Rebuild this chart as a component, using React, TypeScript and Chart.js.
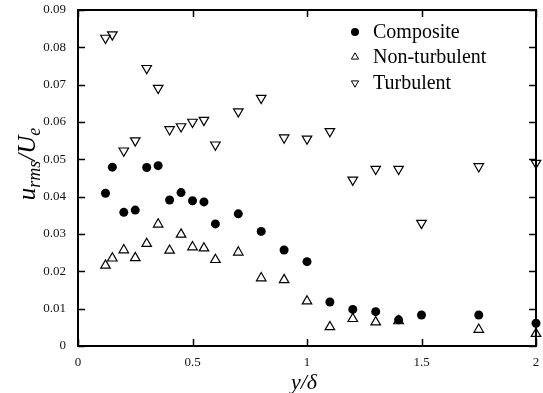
import React, { useEffect, useRef } from "react";
import { Chart, registerables } from "chart.js";

Chart.register(...registerables);

const xComposite = [0.12, 0.15, 0.2, 0.25, 0.3, 0.35, 0.4, 0.45, 0.5, 0.55, 0.6, 0.7, 0.8, 0.9, 1.0, 1.1, 1.2, 1.3, 1.4, 1.5, 1.75, 2.0];
const yComposite = [0.0409, 0.0479, 0.0358, 0.0364, 0.0478, 0.0483, 0.0391, 0.0411, 0.0389, 0.0386, 0.0327, 0.0354, 0.0307, 0.0257, 0.0226, 0.0118, 0.0098, 0.0092, 0.007, 0.0083, 0.0083, 0.0061];

const xNonTurb = [0.12, 0.15, 0.2, 0.25, 0.3, 0.35, 0.4, 0.45, 0.5, 0.55, 0.6, 0.7, 0.8, 0.9, 1.0, 1.1, 1.2, 1.3, 1.4, 1.75, 2.0];
const yNonTurb = [0.0216, 0.0235, 0.0257, 0.0236, 0.0274, 0.0326, 0.0256, 0.0299, 0.0265, 0.0262, 0.0231, 0.0251, 0.0182, 0.0177, 0.012, 0.0051, 0.0073, 0.0064, 0.0067, 0.0044, 0.0033];

const xTurb = [0.12, 0.15, 0.2, 0.25, 0.3, 0.35, 0.4, 0.45, 0.5, 0.55, 0.6, 0.7, 0.8, 0.9, 1.0, 1.1, 1.2, 1.3, 1.4, 1.5, 1.75, 2.0];
const yTurb = [0.0825, 0.0834, 0.0523, 0.055, 0.0744, 0.0691, 0.058, 0.0588, 0.06, 0.0605, 0.0539, 0.0628, 0.0664, 0.0558, 0.0555, 0.0575, 0.0445, 0.0474, 0.0474, 0.0329, 0.0481, 0.049];

const seriesNames = ["Composite", "Non-turbulent", "Turbulent"];

const yTickValues = [0, 0.01, 0.02, 0.03, 0.04, 0.05, 0.06, 0.07, 0.08, 0.09];
const yTickLabels = ["0", "0.01", "0.02", "0.03", "0.04", "0.05", "0.06", "0.07", "0.08", "0.09"];
const xTickValues = [0, 0.5, 1, 1.5, 2];
const xTickLabels = ["0", "0.5", "1", "1.5", "2"];

const SERIF = "'Liberation Serif', 'DejaVu Serif', serif";

const decorPlugin = {
  id: "decor",
  afterDraw(chart: any) {
    const ctx = chart.ctx as CanvasRenderingContext2D;
    const { left, right, top, bottom } = chart.chartArea;
    const xs = chart.scales.x;
    const ys = chart.scales.y;
    ctx.save();
    ctx.strokeStyle = "#000";
    // frame
    ctx.lineWidth = 2;
    ctx.strokeRect(left, top, right - left, bottom - top);
    // ticks inward
    ctx.lineWidth = 1.5;
    const tl = 7;
    ctx.beginPath();
    yTickValues.forEach((v) => {
      const py = Math.round(ys.getPixelForValue(v)) + 0.5;
      ctx.moveTo(left, py);
      ctx.lineTo(left + tl, py);
      ctx.moveTo(right, py);
      ctx.lineTo(right - tl, py);
    });
    xTickValues.forEach((v) => {
      const px = Math.round(xs.getPixelForValue(v)) + 0.5;
      ctx.moveTo(px, bottom);
      ctx.lineTo(px, bottom - tl);
      ctx.moveTo(px, top);
      ctx.lineTo(px, top + tl);
    });
    ctx.stroke();

    // y-axis title: u_rms/U_e
    ctx.fillStyle = "#000";
    ctx.save();
    ctx.translate(27, 164);
    ctx.rotate(-Math.PI / 2);
    const big = "italic 25px " + SERIF;
    const small = "italic 18px " + SERIF;
    const parts: [string, string, number][] = [
      ["u", big, 0],
      ["rms", small, 5],
      ["/U", big, 0],
      ["e", small, 5],
    ];
    let total = 0;
    parts.forEach(([t, f]) => {
      ctx.font = f;
      total += ctx.measureText(t).width;
    });
    let cx = -total / 2;
    ctx.textBaseline = "alphabetic";
    ctx.textAlign = "left";
    parts.forEach(([t, f, dy]) => {
      ctx.font = f;
      ctx.fillText(t, cx, 8 + dy);
      cx += ctx.measureText(t).width;
    });
    ctx.restore();

    // x-axis title: y/δ
    ctx.font = "italic 22px " + SERIF;
    ctx.textAlign = "center";
    ctx.textBaseline = "middle";
    ctx.fillText("y/δ", 304, 383);

    // legend
    const rows = [32, 57, 83];
    const mx = 355;
    const tx = 373;
    ctx.font = "20px " + SERIF;
    ctx.textAlign = "left";
    ctx.textBaseline = "middle";
    rows.forEach((ry, i) => {
      ctx.lineWidth = 1;
      ctx.beginPath();
      if (i === 0) {
        ctx.arc(mx, ry, 4, 0, Math.PI * 2);
        ctx.fill();
      } else {
        const r = 4.2;
        const s = i === 1 ? -1 : 1;
        ctx.moveTo(mx, ry + s * r);
        ctx.lineTo(mx - r * 0.866, ry - s * r * 0.5);
        ctx.lineTo(mx + r * 0.866, ry - s * r * 0.5);
        ctx.closePath();
        ctx.stroke();
      }
      ctx.fillText(seriesNames[i], tx, ry + 1);
    });
    ctx.restore();
  },
};

export default function App() {
  const ref = useRef<HTMLCanvasElement>(null);
  useEffect(() => {
    if (!ref.current) return;
    const toPts = (xs: number[], ys: number[]) => xs.map((x, i) => ({ x, y: ys[i] }));
    const chart = new Chart(ref.current, {
      type: "scatter",
      data: {
        datasets: [
          {
            label: seriesNames[0],
            data: toPts(xComposite, yComposite),
            pointStyle: "circle",
            pointRadius: 4.5,
            backgroundColor: "#000",
            borderColor: "#000",
            borderWidth: 0,
            clip: false,
          },
          {
            label: seriesNames[1],
            data: toPts(xNonTurb, yNonTurb),
            pointStyle: "triangle",
            pointRadius: 5.5,
            backgroundColor: "rgba(255,255,255,0)",
            borderColor: "#000",
            borderWidth: 1.2,
            clip: false,
          },
          {
            label: seriesNames[2],
            data: toPts(xTurb, yTurb),
            pointStyle: "triangle",
            pointRotation: 180,
            pointRadius: 5.5,
            backgroundColor: "rgba(255,255,255,0)",
            borderColor: "#000",
            borderWidth: 1.2,
            clip: false,
          },
        ],
      },
      options: {
        responsive: false,
        animation: false,
        events: [],
        layout: { padding: { left: 0, right: 7, top: 10, bottom: 0 } },
        plugins: { legend: { display: false }, tooltip: { enabled: false } },
        scales: {
          x: {
            type: "linear",
            min: 0,
            max: 2,
            grid: { display: false, drawTicks: false },
            border: { display: false },
            afterBuildTicks: (s: any) => {
              s.ticks = xTickValues.map((v) => ({ value: v }));
            },
            afterFit: (s: any) => {
              s.height = 47;
              s.paddingLeft = 0;
              s.paddingRight = 0;
            },
            ticks: {
              padding: 9,
              maxRotation: 0,
              autoSkip: false,
              color: "#111",
              font: { family: SERIF, size: 13 },
              callback: (v: any) => {
                const i = xTickValues.indexOf(Number(v));
                return i >= 0 ? xTickLabels[i] : "";
              },
            },
          },
          y: {
            type: "linear",
            min: 0,
            max: 0.09,
            grid: { display: false, drawTicks: false },
            border: { display: false },
            afterBuildTicks: (s: any) => {
              s.ticks = yTickValues.map((v) => ({ value: v }));
            },
            afterFit: (s: any) => {
              s.width = 78;
              s.paddingTop = 0;
              s.paddingBottom = 0;
            },
            ticks: {
              padding: 12,
              autoSkip: false,
              color: "#111",
              font: { family: SERIF, size: 13 },
              callback: (v: any) => {
                const i = yTickValues.findIndex((t) => Math.abs(t - Number(v)) < 1e-9);
                return i >= 0 ? yTickLabels[i] : "";
              },
            },
          },
        },
      },
      plugins: [decorPlugin],
    });
    return () => chart.destroy();
  }, []);
  return (
    <div style={{ position: "absolute", left: 0, top: 0, width: 543, height: 393, background: "#fff" }}>
      <canvas ref={ref} width={543} height={393} style={{ display: "block" }} />
    </div>
  );
}
